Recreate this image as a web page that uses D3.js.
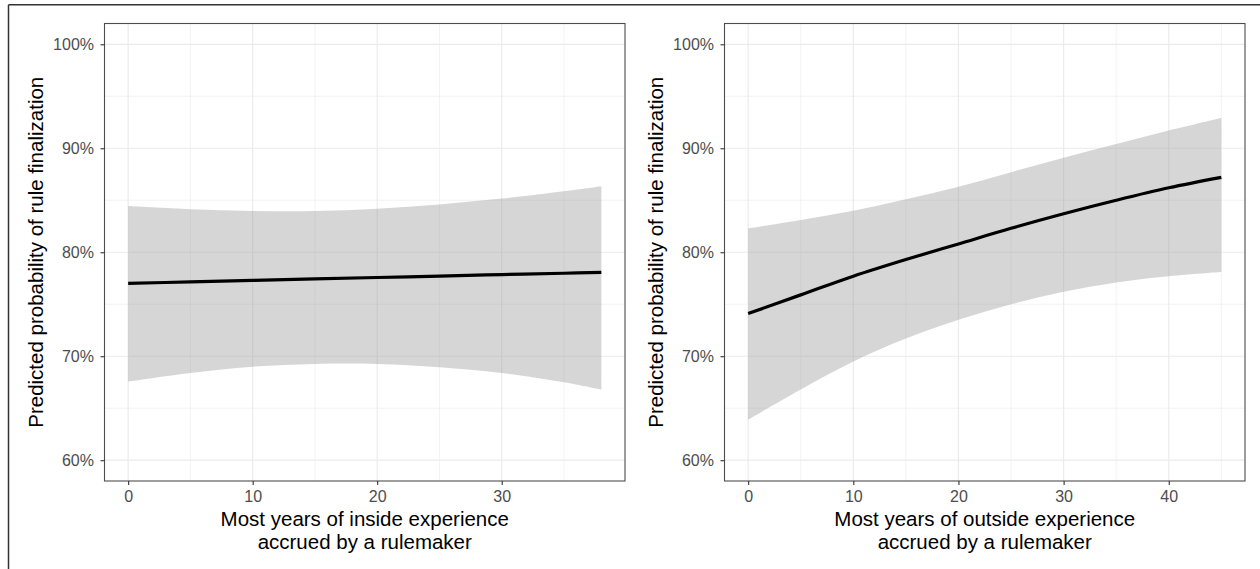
<!DOCTYPE html>
<html>
<head>
<meta charset="utf-8">
<title>Predicted probability of rule finalization</title>
<script src="https://cdn.jsdelivr.net/npm/d3@7"></script>
<style>
  body { margin: 0; background: #fff; }
  svg text { font-family: "Liberation Sans", Arial, sans-serif; }
</style>
</head>
<body>
<div id="vis"></div>
<script>
// values (percent)
var insideYears = [0, 5, 10, 15, 20, 25, 30, 35, 38];
var insideFit   = [77.0, 77.15, 77.29, 77.43, 77.57, 77.71, 77.85, 77.98, 78.07];
var insideUpper = [84.44, 84.13, 83.96, 83.96, 84.19, 84.6, 85.16, 85.86, 86.35];
var insideLower = [67.56, 68.39, 69.0, 69.26, 69.26, 68.94, 68.39, 67.49, 66.78];

var outsideYears = [0, 5, 10, 15, 20, 25, 30, 35, 40, 45];
var outsideFit   = [74.1, 75.9, 77.7, 79.3, 80.8, 82.3, 83.7, 85.0, 86.2, 87.2];
var outsideUpper = [82.3, 83.1, 84.0, 85.1, 86.3, 87.7, 89.1, 90.4, 91.7, 92.9];
var outsideLower = [63.9, 66.8, 69.5, 71.7, 73.5, 75.0, 76.2, 77.1, 77.7, 78.1];

var yTicks = [60, 70, 80, 90, 100];
var yMinor = [65, 75, 85, 95];
var insideTicks = [0, 10, 20, 30];
var insideMinor = [5, 15, 25, 35];
var outsideTicks = [0, 10, 20, 30, 40];
var outsideMinor = [5, 15, 25, 35, 45];

var yTitle = "Predicted probability of rule finalization";
var insideTitle = ["Most years of inside experience", "accrued by a rulemaker"];
var outsideTitle = ["Most years of outside experience", "accrued by a rulemaker"];

var w = 1260, h = 569;

var svg = d3.select("#vis").append("svg")
  .attr("width", w)
  .attr("height", h);

svg.append("rect").attr("width", w).attr("height", h).attr("fill", "white");

// frame of the screenshot (top and left only)
svg.append("line").attr("x1", 8.5).attr("x2", w).attr("y1", 4.7).attr("y2", 4.7)
  .attr("stroke", "#333").attr("stroke-width", 1.5);
svg.append("line").attr("x1", 8.5).attr("x2", 8.5).attr("y1", 4.7).attr("y2", h)
  .attr("stroke", "#333").attr("stroke-width", 1.5);

function panel(left, right, years, fit, upper, lower, xTicks, xMinor, title) {
  var top = 23.5, bottom = 481;
  var xmax = d3.max(years);
  var pad = xmax * 0.05;

  var x = d3.scaleLinear().domain([-pad, xmax + pad]).range([left, right]);
  var y = d3.scaleLinear().domain([58, 102]).range([bottom, top]);

  var g = svg.append("g");

  // grid
  g.selectAll(".ymin").data(yMinor).enter().append("line")
    .attr("x1", left).attr("x2", right)
    .attr("y1", function(d) { return y(d); }).attr("y2", function(d) { return y(d); })
    .attr("stroke", "#ebebeb").attr("stroke-width", 0.6);
  g.selectAll(".xmin").data(xMinor).enter().append("line")
    .attr("y1", top).attr("y2", bottom)
    .attr("x1", function(d) { return x(d); }).attr("x2", function(d) { return x(d); })
    .attr("stroke", "#ebebeb").attr("stroke-width", 0.6);
  g.selectAll(".ymaj").data(yTicks).enter().append("line")
    .attr("x1", left).attr("x2", right)
    .attr("y1", function(d) { return y(d); }).attr("y2", function(d) { return y(d); })
    .attr("stroke", "#ebebeb").attr("stroke-width", 1.2);
  g.selectAll(".xmaj").data(xTicks).enter().append("line")
    .attr("y1", top).attr("y2", bottom)
    .attr("x1", function(d) { return x(d); }).attr("x2", function(d) { return x(d); })
    .attr("stroke", "#ebebeb").attr("stroke-width", 1.2);

  var pts = years.map(function(d, i) {
    return { yr: d, fit: fit[i], hi: upper[i], lo: lower[i] };
  });

  var band = d3.area()
    .x(function(d) { return x(d.yr); })
    .y0(function(d) { return y(d.lo); })
    .y1(function(d) { return y(d.hi); })
    .curve(d3.curveCatmullRom);

  g.append("path").datum(pts)
    .attr("d", band)
    .attr("fill", "#999999")
    .attr("fill-opacity", 0.4);

  var line = d3.line()
    .x(function(d) { return x(d.yr); })
    .y(function(d) { return y(d.fit); })
    .curve(d3.curveCatmullRom);

  g.append("path").datum(pts)
    .attr("d", line)
    .attr("fill", "none")
    .attr("stroke", "black")
    .attr("stroke-width", 3.2);

  g.append("rect")
    .attr("x", left).attr("y", top)
    .attr("width", right - left).attr("height", bottom - top)
    .attr("fill", "none").attr("stroke", "#4d4d4d").attr("stroke-width", 1.1);

  // axes
  var ya = g.append("g").attr("transform", "translate(" + left + ",0)")
    .call(d3.axisLeft(y).tickValues(yTicks).tickSize(4).tickPadding(6.5)
      .tickFormat(function(d) { return d + "%"; }));
  var xa = g.append("g").attr("transform", "translate(0," + bottom + ")")
    .call(d3.axisBottom(x).tickValues(xTicks).tickSize(4).tickPadding(6));

  [ya, xa].forEach(function(a) {
    a.select(".domain").remove();
    a.selectAll(".tick line").attr("stroke", "#333").attr("stroke-width", 1.1);
    a.selectAll(".tick text").attr("fill", "#4d4d4d")
      .style("font-size", "16px");
  });

  // titles
  g.append("text")
    .attr("transform", "translate(" + (left - 61.3) + "," + ((top + bottom) / 2) + ") rotate(-90)")
    .attr("text-anchor", "middle")
    .style("font-size", "20.5px")
    .attr("fill", "black")
    .text(yTitle);

  g.selectAll(".xt").data(title).enter().append("text")
    .attr("x", (left + right) / 2)
    .attr("y", function(d, i) { return 526 + i * 22.7; })
    .attr("text-anchor", "middle")
    .style("font-size", "20.5px")
    .attr("fill", "black")
    .text(function(d) { return d; });
}

panel(104.5, 625, insideYears, insideFit, insideUpper, insideLower, insideTicks, insideMinor, insideTitle);
panel(724.5, 1245, outsideYears, outsideFit, outsideUpper, outsideLower, outsideTicks, outsideMinor, outsideTitle);
</script>
</body>
</html>
